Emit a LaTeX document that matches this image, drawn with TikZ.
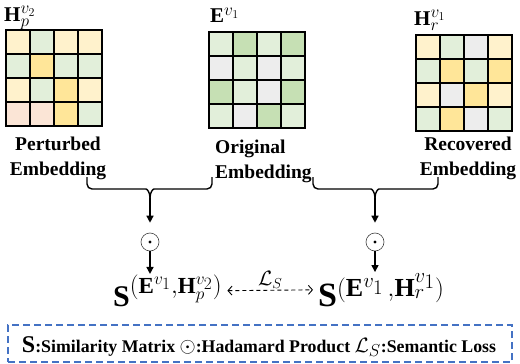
\documentclass[tikz,border=0pt]{standalone}
\usepackage{fontspec}
\setmainfont{Liberation Serif}
\usetikzlibrary{arrows.meta}
\DeclareMathSizes{21}{21}{16.5}{13}
\DeclareMathSizes{30}{30}{23}{17}
\DeclareMathSizes{34}{34}{26}{19.5}
\definecolor{ly}{HTML}{FFF2CC}
\definecolor{yy}{HTML}{FFE699}
\definecolor{lg}{HTML}{E2EFDA}
\definecolor{gg}{HTML}{C6E0B4}
\definecolor{gy}{HTML}{EDEDED}
\definecolor{pc}{HTML}{FBE5D6}
\definecolor{legblue}{HTML}{4472C4}
\newcommand{\mygrid}[4]{%
  \foreach \c [count=\i from 0] in {#4} {%
    \pgfmathtruncatemacro\col{mod(\i,4)}%
    \pgfmathtruncatemacro\row{int(\i/4)}%
    \filldraw[fill=\c, cellline] ({#1+\col*#3},{#2+\row*#3}) rectangle +(#3,#3);
  }}
\tikzset{
  cellline/.style={draw=black, line width=1.2pt},
  lbl/.style={font=\fontsize{19.5}{25}\selectfont\bfseries, inner sep=0},
  mlab/.style={font=\fontsize{21}{21}\selectfont, inner sep=0, anchor=base west},
  slab/.style={inner sep=0, anchor=base west},
  conn/.style={line width=1.4pt, rounded corners=5pt},
  arr/.style={line width=1.4pt, -{Triangle[length=7pt,width=7pt]}},
  odotnode/.style={circle, draw=black!75, line width=0.6pt, minimum size=18pt, inner sep=0},
  lossarr/.style={line width=0.9pt, dash pattern=on 4pt off 3pt, {Straight Barb[length=4pt,width=9pt]}-{Straight Barb[length=4pt,width=9pt]}},
  legbox/.style={draw=legblue, line width=1.4pt, dash pattern=on 7pt off 4pt, minimum width=504pt, minimum height=37pt, inner sep=0},
}
\begin{document}
\begin{tikzpicture}[x=1pt,y=-1pt]
\useasboundingbox (0,0) rectangle (520,364);
% grids
\mygrid{6}{30}{24}{ly,lg,ly,ly, lg,yy,lg,lg, ly,lg,yy,ly, pc,pc,yy,lg}
\mygrid{209}{32}{24}{lg,gg,lg,gg, gy,lg,gy,lg, gg,lg,gy,gg, lg,gy,gg,lg}
\mygrid{416}{35}{24}{ly,lg,gy,ly, lg,yy,lg,yy, ly,gy,yy,ly, lg,yy,gy,lg}
% math labels
\node[mlab] (hp) at (4,21) {$\mathbf{H}_p^{v_2}$};
\node[mlab] (ev) at (210,23) {$\mathbf{E}^{v_1}$};
\node[mlab] (hr) at (414,25) {$\mathbf{H}_r^{v_1}$};
% text labels
\node[lbl, align=center] (P) at (58,158) {Perturbed\\Embedding};
\node[lbl, align=left, anchor=west] (O) at (215,161) {Original\\Embedding};
\node[lbl, align=center] (R) at (468,158) {Recovered\\Embedding};
% brace connectors
\coordinate (b1l) at (87,177);
\coordinate (b1r) at (212,177);
\coordinate (m1) at (150,198);
\coordinate (b2l) at (313,177);
\coordinate (b2r) at (438,177);
\coordinate (m2) at (375,198);
\draw[conn] (b1l) |- (141,189) .. controls (147,189) and (150,192) .. (m1);
\draw[conn] (b1r) |- (159,189) .. controls (153,189) and (150,192) .. (m1);
\draw[conn] (b2l) |- (366,189) .. controls (372,189) and (375,192) .. (m2);
\draw[conn] (b2r) |- (384,189) .. controls (378,189) and (375,192) .. (m2);
% odot nodes
\node[odotnode] (o1) at (150,242) {};
\node[odotnode] (o2) at (375,242) {};
\fill (o1.center) circle (1.7pt);
\fill (o2.center) circle (1.7pt);
\draw[arr, shorten >=10pt] (m1) -- (o1);
\draw[arr, shorten >=10pt] (m2) -- (o2);
% similarity labels
\node[slab, font=\fontsize{30}{30}\selectfont] (S1) at (113,306) {$\mathbf{S}^{(\mathbf{E}^{v_1},\mathbf{H}_p^{v_2})}$};
\node[slab, font=\fontsize{34}{34}\selectfont] (S2) at (318,306) {$\mathbf{S}^{(\mathbf{E}^{v_1}\,,\mathbf{H}_r^{v_1})}$};
\draw[arr] (o1) -- ([yshift=1pt]o1 |- S1.north);
\draw[arr] (o2) -- ([yshift=1pt]o2 |- S2.north);
\draw[lossarr, shorten <=5pt, shorten >=5pt] (S1.east) -- (S2.west) node[midway, above=1pt, font=\fontsize{20}{20}\selectfont, inner sep=0] (LS) {$\mathcal{L}_S$};
% legend
\node[legbox] (leg) at (260,343.5) {};
\node[inner sep=0, anchor=base] (legtext) at (259,352) {\fontsize{17.8}{20}\selectfont\bfseries
  {\fontsize{24}{24}\selectfont$\mathbf{S}$}:Similarity Matrix
  {\fontsize{22}{22}\selectfont$\odot$}:Hadamard Product
  {\fontsize{21}{21}\selectfont$\mathcal{L}_S$}:Semantic Loss};
\end{tikzpicture}
\end{document}
